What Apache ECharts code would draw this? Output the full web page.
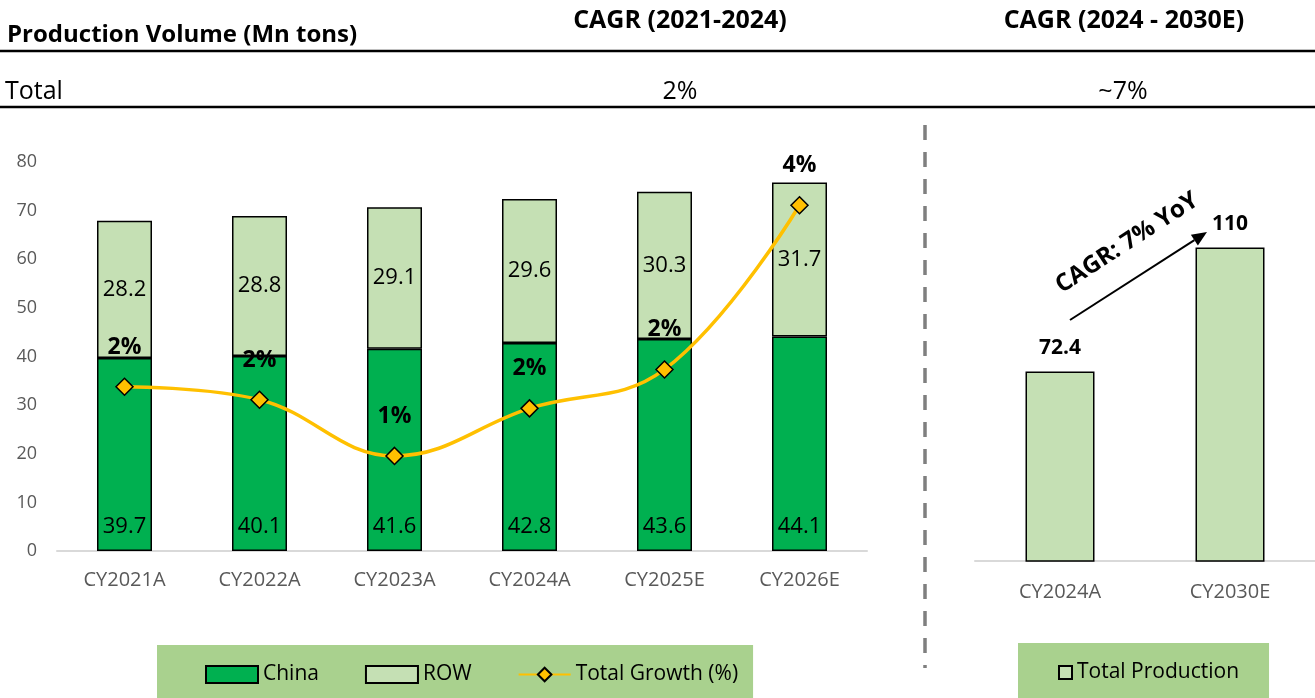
<!DOCTYPE html>
<html>
<head>
<meta charset="utf-8">
<script src="https://cdn.jsdelivr.net/npm/echarts@6/dist/echarts.min.js"></script>
<style>
  html, body { margin: 0; padding: 0; background: #fff; }
  #main { width: 1315px; height: 698px; }
</style>
</head>
<body>
<div id="main"></div>
<script>
// left chart: production split
const years = ["CY2021A", "CY2022A", "CY2023A", "CY2024A", "CY2025E", "CY2026E"];
const china = [39.7, 40.1, 41.6, 42.8, 43.6, 44.1];
const row = [28.2, 28.8, 29.1, 29.6, 30.3, 31.7];
const growth = [1.9, 1.75, 1.1, 1.65, 2.1, 4.0];

// right chart: total production
const totalYears = ["CY2024A", "CY2030E"];
const totalProd = [72.4, 110];

const yTicks = [0, 80, 10]; // min, max, interval

const FONT = "Open Sans";
const myChart = echarts.init(document.getElementById("main"));

// arrow for the CAGR note
const ax0 = [1070, 320], ax1 = [1207, 232];
const dx = ax1[0] - ax0[0], dy = ax1[1] - ax0[1];
const len = Math.sqrt(dx * dx + dy * dy);
const ux = dx / len, uy = dy / len;
const hb = [ax1[0] - 15 * ux, ax1[1] - 15 * uy];
const px = -uy * 6.5, py = ux * 6.5;

const option = {
  animation: false,
  textStyle: { fontFamily: FONT },
  grid: [
    { left: 57, right: 448, top: 162, bottom: 147 },
    { left: 975, right: -4, top: 198, bottom: 137 },
  ],
  legend: [
    {
      data: [
        { name: "China", icon: "rect" },
        { name: "ROW", icon: "rect" },
        { name: "Total Growth (%)" },
      ],
      left: 157,
      top: 645,
      backgroundColor: "#a9d18e",
      padding: [19, 15, 15, 48],
      itemGap: 46,
      itemWidth: 52,
      itemHeight: 17,
      textStyle: { fontSize: 21, color: "#000", fontFamily: FONT },
    },
    {
      data: [{ name: "Total Production", icon: "rect" }],
      left: 1018,
      top: 643,
      backgroundColor: "#a9d18e",
      padding: [19, 30, 15, 40],
      itemWidth: 13,
      itemHeight: 13,
      textStyle: { fontSize: 21, color: "#000", fontFamily: FONT },
    },
  ],
  xAxis: [
    {
      type: "category",
      gridIndex: 0,
      data: years,
      axisLine: { lineStyle: { color: "#d9d9d9", width: 2 } },
      axisTick: { show: false },
      axisLabel: { color: "#595959", fontSize: 20, margin: 19 },
    },
    {
      type: "category",
      gridIndex: 1,
      data: totalYears,
      axisLine: { lineStyle: { color: "#d9d9d9", width: 2 } },
      axisTick: { show: false },
      axisLabel: { color: "#595959", fontSize: 20, margin: 21 },
    },
  ],
  yAxis: [
    {
      type: "value",
      gridIndex: 0,
      min: yTicks[0],
      max: yTicks[1],
      interval: yTicks[2],
      axisLine: { show: false },
      axisTick: { show: false },
      splitLine: { show: false },
      axisLabel: { color: "#595959", fontSize: 18, margin: 20 },
    },
    {
      type: "value",
      gridIndex: 0,
      min: 0,
      max: 4.5,
      show: false,
      splitLine: { show: false },
    },
    {
      type: "value",
      gridIndex: 1,
      min: 15,
      max: 125,
      show: false,
      splitLine: { show: false },
    },
  ],
  series: [
    {
      name: "China",
      type: "bar",
      stack: "vol",
      data: china,
      barWidth: 55,
      itemStyle: { color: "#00b050", borderColor: "#000", borderWidth: 1.5 },
      label: {
        show: true,
        position: "insideBottom",
        distance: 13,
        fontSize: 22,
        color: "#000",
      },
    },
    {
      name: "ROW",
      type: "bar",
      stack: "vol",
      data: row,
      barWidth: 55,
      itemStyle: { color: "#c5e0b4", borderColor: "#000", borderWidth: 1.5 },
      label: {
        show: true,
        position: "inside",
        fontSize: 22,
        color: "#000",
      },
    },
    {
      name: "Total Growth (%)",
      type: "line",
      yAxisIndex: 1,
      data: growth,
      smooth: 0.4,
      z: 5,
      symbol: "diamond",
      symbolSize: 17,
      lineStyle: { color: "#ffc000", width: 3.5 },
      itemStyle: { color: "#ffc000", borderColor: "#000", borderWidth: 1.5 },
      label: {
        show: true,
        position: "top",
        distance: 19,
        fontSize: 23,
        fontWeight: "bold",
        color: "#000",
        formatter: (p) => Math.round(p.value) + "%",
      },
    },
    {
      name: "Total Production",
      type: "bar",
      xAxisIndex: 1,
      yAxisIndex: 2,
      data: totalProd,
      barWidth: 69,
      itemStyle: { color: "#c5e0b4", borderColor: "#000", borderWidth: 1.5 },
      label: {
        show: true,
        position: "top",
        distance: 13,
        fontSize: 21,
        fontWeight: "bold",
        color: "#000",
      },
    },
  ],
  graphic: [
    // header rows
    { type: "text", x: 7, y: 35, style: { text: "Production Volume (Mn tons)", font: "bold 24px " + FONT, fill: "#000", verticalAlign: "middle" } },
    { type: "text", x: 680, y: 21, style: { text: "CAGR (2021-2024)", font: "bold 25px " + FONT, fill: "#000", align: "center", verticalAlign: "middle" } },
    { type: "text", x: 1124, y: 21, style: { text: "CAGR (2024 - 2030E)", font: "bold 25px " + FONT, fill: "#000", align: "center", verticalAlign: "middle" } },
    { type: "line", shape: { x1: 0, y1: 51, x2: 1315, y2: 51 }, style: { stroke: "#000", lineWidth: 2.5 } },
    { type: "text", x: 5, y: 92, style: { text: "Total", font: "25px " + FONT, fill: "#000", verticalAlign: "middle" } },
    { type: "text", x: 680, y: 92, style: { text: "2%", font: "25px " + FONT, fill: "#000", align: "center", verticalAlign: "middle" } },
    { type: "text", x: 1123, y: 92, style: { text: "~7%", font: "25px " + FONT, fill: "#000", align: "center", verticalAlign: "middle" } },
    { type: "line", shape: { x1: 0, y1: 107, x2: 1315, y2: 107 }, style: { stroke: "#000", lineWidth: 2.5 } },
    // divider
    { type: "line", shape: { x1: 925, y1: 125, x2: 925, y2: 668 }, style: { stroke: "#7f7f7f", lineWidth: 3.5, lineDash: [15, 12] } },
    // CAGR arrow
    { type: "line", shape: { x1: ax0[0], y1: ax0[1], x2: hb[0], y2: hb[1] }, style: { stroke: "#000", lineWidth: 2 } },
    {
      type: "polygon",
      shape: { points: [ax1, [hb[0] + px, hb[1] + py], [hb[0] - px, hb[1] - py]] },
      style: { fill: "#000" },
    },
    {
      type: "text",
      x: 1127,
      y: 243,
      rotation: (33 * Math.PI) / 180,
      style: { text: "CAGR: 7% YoY", font: "bold 24px " + FONT, fill: "#000", align: "center", verticalAlign: "middle" },
    },
  ],
};

myChart.setOption(option);
</script>
</body>
</html>
